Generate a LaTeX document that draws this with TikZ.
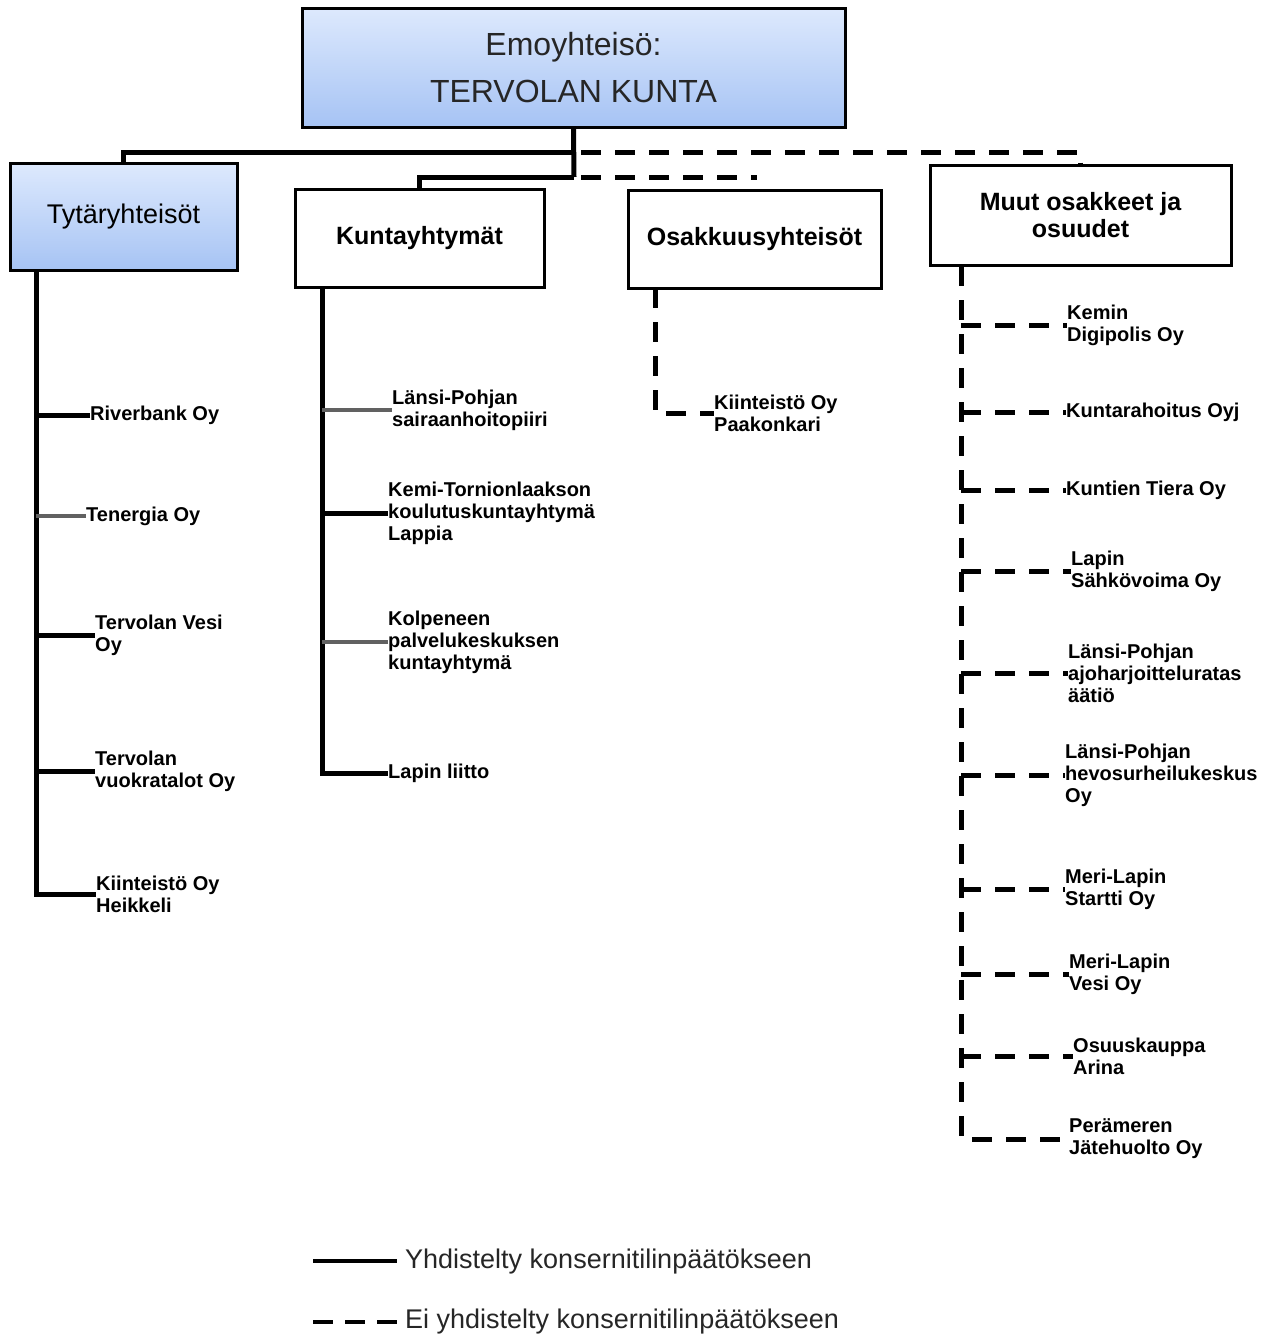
\documentclass[tikz,border=0pt]{standalone}
\usepackage{fontspec}
\setmainfont{Liberation Sans}
\definecolor{blueTop}{HTML}{DDE9FD}
\definecolor{blueBot}{HTML}{A6C3F4}
\begin{document}
\begin{tikzpicture}[x=1pt,y=-1pt,
  box/.style={draw=black, line width=3pt, inner sep=0pt, align=center},
  bluebox/.style={box, top color=blueTop, bottom color=blueBot},
  whitebox/.style={box, fill=white},
  solidln/.style={line width=5pt},
  greyln/.style={line width=4.5pt, draw=black!62},
  dashln/.style={line width=5pt, dash pattern=on 20pt off 14pt},
  lbl/.style={anchor=west, align=left, inner sep=0pt, font=\fontsize{20}{22}\selectfont\bfseries},
  headb/.style={font=\fontsize{25}{27}\selectfont\bfseries},
  legtxt/.style={anchor=west, inner sep=0pt, text=black!85, font=\fontsize{27}{30}\selectfont}
  ]
\useasboundingbox (0,0) rectangle (1261,1336);

% boxes
\node[bluebox, minimum width=543pt, minimum height=119pt, font=\fontsize{32}{47}\selectfont, text=black!85] (emo) at (573.5,67.5) {Emoyhteisö:\\TERVOLAN KUNTA};
\node[bluebox, minimum width=227pt, minimum height=107pt, font=\fontsize{27}{28}\selectfont] (tyt) at (123.5,217) {Tytäryhteisöt};
\node[whitebox, headb, minimum width=249pt, minimum height=98pt] (kun) at (419.5,238.5) {Kuntayhtymät};
\node[whitebox, headb, minimum width=253pt, minimum height=98pt] (osa) at (754.5,239) {Osakkuusyhteisöt};
\node[whitebox, headb, minimum width=301pt, minimum height=100pt] (muu) at (1080.5,215.5) {Muut osakkeet ja\\osuudet};

% top connectors
\coordinate (j1) at (574,152);
\coordinate (j2) at (574,177);
\coordinate (d1) at (581,152);
\coordinate (d2) at (581,177);
\coordinate (d2e) at (757,177);
\draw[solidln] (emo.south) -- (j2);
\draw[solidln] (j1) -| (tyt.north);
\draw[solidln] (j2) -| (kun.north);
\draw[dashln] (d1) -| (muu.north);
\draw[dashln] (d2) -- (d2e);

% Tytaryhteisot
\coordinate (tT) at (36,271);
\node[lbl] (t1) at (90,415) {Riverbank Oy};
\node[lbl] (t2) at (86,516) {Tenergia Oy};
\node[lbl] (t3) at (95,635) {Tervolan Vesi\\Oy};
\node[lbl] (t4) at (95,771) {Tervolan\\vuokratalot Oy};
\node[lbl] (t5) at (96,894) {Kiinteistö Oy\\Heikkeli};
\draw[solidln] (tT) |- (t5.west);
\draw[solidln] (t1.west -| tT) -- (t1.west);
\draw[greyln] (t2.west -| tT) -- (t2.west);
\draw[solidln] (t3.west -| tT) -- (t3.west);
\draw[solidln] (t4.west -| tT) -- (t4.west);

% Kuntayhtymat
\coordinate (kT) at (322,288);
\node[lbl] (k1) at (392,410) {Länsi-Pohjan\\sairaanhoitopiiri};
\node[lbl] (k2) at (388,513) {Kemi-Tornionlaakson\\koulutuskuntayhtymä\\Lappia};
\node[lbl] (k3) at (388,642) {Kolpeneen\\palvelukeskuksen\\kuntayhtymä};
\node[lbl] (k4) at (388,773) {Lapin liitto};
\draw[solidln] (kT) |- (k4.west);
\draw[greyln] (k1.west -| kT) -- (k1.west);
\draw[solidln] (k2.west -| kT) -- (k2.west);
\draw[greyln] (k3.west -| kT) -- (k3.west);

% Osakkuusyhteisot
\coordinate (oT) at (655,288);
\node[lbl] (o1) at (714,413) {Kiinteistö Oy\\Paakonkari};
\draw[dashln] (oT) |- (o1.west);

% Muut osakkeet
\coordinate (mT) at (961,266);
\node[lbl] (m1) at (1067,325) {Kemin\\Digipolis Oy};
\node[lbl] (m2) at (1066,412) {Kuntarahoitus Oyj};
\node[lbl] (m3) at (1066,490) {Kuntien Tiera Oy};
\node[lbl] (m4) at (1071,571) {Lapin\\Sähkövoima Oy};
\node[lbl] (m5) at (1068,673) {Länsi-Pohjan\\ajoharjoitteluratas\\äätiö};
\node[lbl] (m6) at (1065,775) {Länsi-Pohjan\\hevosurheilukeskus\\Oy};
\node[lbl] (m7) at (1065,889) {Meri-Lapin\\Startti Oy};
\node[lbl] (m8) at (1069,974) {Meri-Lapin\\Vesi Oy};
\node[lbl] (m9) at (1073,1056) {Osuuskauppa\\Arina};
\node[lbl] (m10) at (1069,1139) {Perämeren\\Jätehuolto Oy};
\draw[dashln] (mT) |- (m10.west);
\foreach \m in {m1,m2,m3,m4,m5,m6,m7,m8,m9}
  \draw[dashln] (\m.west -| mT) -- (\m.west);

% legend
\node[legtxt] (lg1) at (405,1262) {Yhdistelty konsernitilinpäätökseen};
\node[legtxt] (lg2) at (405,1322) {Ei yhdistelty konsernitilinpäätökseen};
\coordinate (ls1) at (313,1261);
\coordinate (ls2) at (313,1322);
\draw[line width=4pt] (ls1) -- ([xshift=-8pt]lg1.west |- ls1);
\draw[line width=4pt, dash pattern=on 20pt off 12pt] (ls2) -- ([xshift=-8pt]lg2.west |- ls2);
\end{tikzpicture}
\end{document}
